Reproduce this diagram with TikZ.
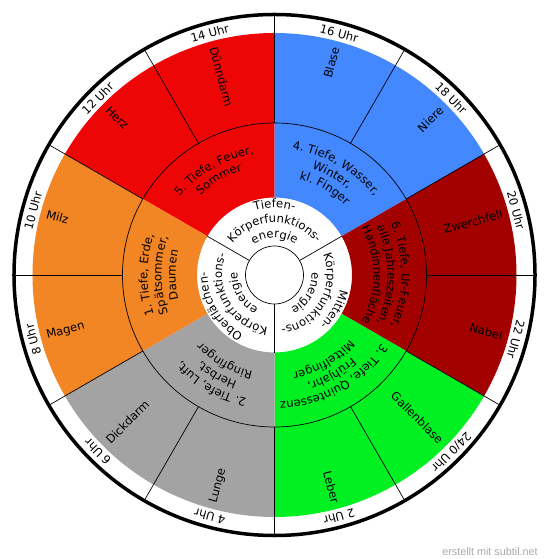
\documentclass[tikz,border=0pt]{standalone}
\usepackage{fontspec}
\setmainfont{DejaVu Sans}
\newfontfamily\markfont{Liberation Sans}
\usepackage{tikz}
\usetikzlibrary{decorations.text}

\definecolor{fire}{RGB}{238,6,6}
\definecolor{water}{RGB}{68,136,255}
\definecolor{deepred}{RGB}{163,0,0}
\definecolor{quint}{RGB}{0,240,34}
\definecolor{air}{RGB}{163,163,163}
\definecolor{earth}{RGB}{242,133,36}
\definecolor{markgray}{RGB}{170,170,170}

\newcommand\labelfont{\fontsize{11.6bp}{14bp}\selectfont}

\tikzset{
  hour/.style={font=\labelfont, inner sep=0pt},
  organ/.style={font=\labelfont, inner sep=0pt},
  divider/.style={draw=black, line width=0.7bp},
}

% coloured sector between inner and outer ring, #1 = centre angle
\newcommand\sectorfill[2]{%
  \fill[#2] (#1-30:77.5bp) arc[start angle=#1-30, end angle=#1+30, radius=77.5bp]
    -- (#1+30:242bp) arc[start angle=#1+30, end angle=#1-30, radius=242bp] -- cycle;}

% one line of text on a clockwise arc centred on #1
\newcommand\arctext[3]{%
  \path[decorate, decoration={text along path, text align=center, text={|\labelfont|#3}}]
    (#1+75:#2) arc[start angle=#1+75, end angle=#1-75, radius=#2];}

\begin{document}
\begin{tikzpicture}[x=1bp, y=1bp]
  \useasboundingbox[fill=white] (-274.5,-284) rectangle (275.5,275);

  % Sectors
  \foreach \a/\col in {120/fire, 60/water, 0/deepred, -60/quint, -120/air, 180/earth}
    \sectorfill{\a}{\col};

  % Rings and dividers
  \draw[line width=3.5bp] (0,0) circle[radius=260.5bp];
  \draw[divider] (0,0) circle[radius=152bp];
  \draw[divider] (0,0) circle[radius=29bp];
  \foreach \a in {0,30,...,330}
    \draw[divider] (\a:152bp) -- (\a:259bp);
  \foreach \a in {30,150,270}
    \draw[divider] (\a:29bp) -- (\a:77.5bp);

  % Hours
  \foreach \a/\t [count=\i] in {105/14 Uhr, 75/16 Uhr, 45/18 Uhr, 15/20 Uhr, -15/22 Uhr, -45/24\slash0 Uhr,
      -75/2 Uhr, -105/4 Uhr, -135/6 Uhr, -165/8 Uhr, 165/10 Uhr, 135/12 Uhr}
    \node[hour, rotate=\a-90] (h\i) at (\a:250bp) {\t};

  % Organs
  \foreach \a/\t [count=\i] in {105/Dünndarm, 135/Herz, 165/Milz, 195/Magen, 225/Dickdarm, 255/Lunge}
    \node[organ, anchor=west, rotate=\a-180] (l\i) at (\a:236bp) {\t};
  \foreach \a/\t [count=\i] in {75/Blase, 45/Niere, 15/Zwerchfell, -15/Nabel, -45/Gallenblase, -75/Leber}
    \node[organ, anchor=east, rotate=\a] (r\i) at (\a:236bp) {\t};

  % Middle ring
  \arctext{120}{123bp}{5. Tiefe, Feuer,}
  \arctext{120}{109bp}{Sommer}
  \arctext{60}{127bp}{4. Tiefe, Wasser,}
  \arctext{60}{113bp}{Winter,}
  \arctext{60}{99bp}{kl. Finger}
  \arctext{0}{127bp}{6. Tiefe, Ur-Feuer,}
  \arctext{0}{113bp}{alle Jahreszeiten,}
  \arctext{0}{99bp}{Handinnenfläche}
  \arctext{-60}{127bp}{3. Tiefe, Quintessenz}
  \arctext{-60}{113bp}{Frühjahr,}
  \arctext{-60}{99bp}{Mittelfinger}
  \arctext{-120}{127bp}{2. Tiefe, Luft,}
  \arctext{-120}{113bp}{Herbst,}
  \arctext{-120}{99bp}{Ringfinger}
  \arctext{180}{127bp}{1. Tiefe, Erde,}
  \arctext{180}{113bp}{Spätsommer,}
  \arctext{180}{99bp}{Daumen}

  % Inner ring
  \arctext{90}{67bp}{Tiefen-}
  \arctext{90}{52.5bp}{Körperfunktions-}
  \arctext{90}{37bp}{energie}
  \arctext{-30}{67bp}{Mitten-}
  \arctext{-30}{52.5bp}{Körperfunktions-}
  \arctext{-30}{37bp}{energie}
  \arctext{210}{67bp}{Oberflächen-}
  \arctext{210}{52.5bp}{Körperfunktions-}
  \arctext{210}{37bp}{energie}

  \node[font={\markfont\fontsize{10.8bp}{13bp}\selectfont}, text=markgray, inner sep=0pt] (mark) at (215.5,-277) {erstellt mit subtil.net};
\end{tikzpicture}
\end{document}
